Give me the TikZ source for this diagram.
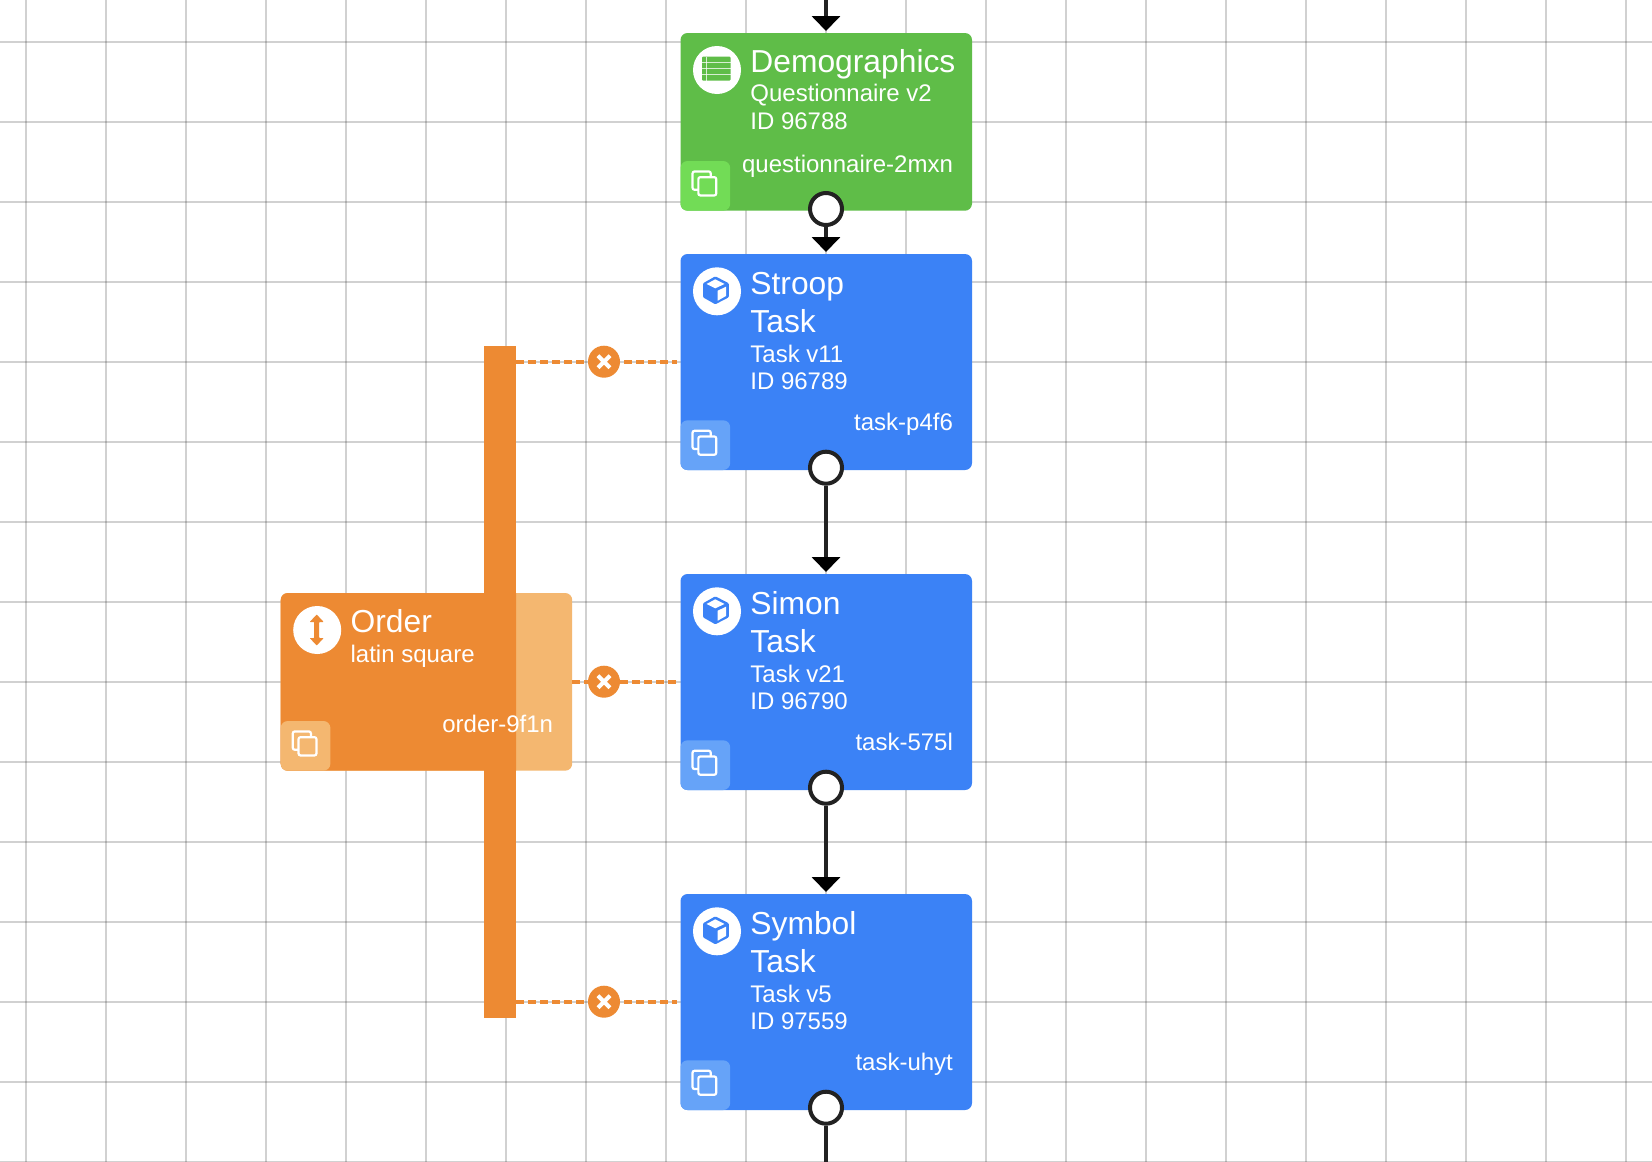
\documentclass[tikz,border=0pt]{standalone}
\usepackage{fontspec}
\setmainfont{Liberation Sans}
\usetikzlibrary{arrows.meta}
\definecolor{cgreen}{HTML}{5FBD48}
\definecolor{cgreenb}{HTML}{72DC56}
\definecolor{cblue}{HTML}{3B82F6}
\definecolor{cblueb}{HTML}{66A3F8}
\definecolor{corange}{HTML}{ED8A33}
\definecolor{corangeb}{HTML}{F4B770}
\definecolor{cink}{HTML}{222222}
\tikzset{
  gridline/.style={draw=black,draw opacity=.18,line width=1.6pt},
  cardbox/.style={anchor=north west,inner sep=0pt,outer sep=0pt,rounded corners=7pt,minimum width=291.5pt},
  copybtn/.style={anchor=south west,inner sep=0pt,outer sep=0pt,rounded corners=7pt,minimum width=49.7pt,minimum height=49.7pt},
  iconcirc/.style={circle,fill=white,inner sep=0pt,outer sep=0pt,minimum size=48pt},
  titletext/.style={anchor=base west,inner sep=0pt,text=white,font=\fontsize{31.8}{32}\selectfont},
  subtext/.style={anchor=base west,inner sep=0pt,text=white,font=\fontsize{24}{25}\selectfont},
  keytext/.style={anchor=base east,inner sep=0pt,text=white,font=\fontsize{24}{25}\selectfont},
  outport/.style={circle,draw=cink,fill=white,line width=4pt,inner sep=0pt,minimum size=32pt},
  flowline/.style={draw=cink,line width=4pt,-{Triangle[width=28pt,length=15pt,color=black]},shorten >=2pt,xshift=.6pt},
  plainline/.style={draw=cink,line width=4pt},
  dashline/.style={draw=corange,line width=3.8pt,dash pattern=on 8pt off 4pt,shorten >=4pt},
  delmark/.style={circle,fill=corange,inner sep=0pt,minimum size=32pt},
}
% copy icon at the centre of a button node: #1 node, #2 button colour
\newcommand{\copyglyph}[2]{%
  \begin{scope}[shift={(#1.center)}]
    \draw[white,line width=2.2pt,rounded corners=2pt] (-12.8,-14.4) rectangle (5.4,3.9);
    \draw[white,fill=#2,line width=2.2pt,rounded corners=2pt] (-7,-8.7) rectangle (10.9,9.6);
  \end{scope}}
\newcommand{\cubeglyph}[1]{%
  \begin{scope}[shift={(#1.center)}]
    \fill[cblue,rounded corners=1pt] (-1.7,-15) -- (11.8,-8) -- (11.8,6) -- (-1.7,13) -- (-14,6) -- (-14,-8) -- cycle;
    \fill[white] (-1.7,-12) -- (7.5,-7.3) -- (-1.7,-3) -- (-10.5,-7.3) -- cycle;
    \fill[white] (0.7,-0.6) -- (9,-4.6) -- (9,4.7) -- (0.7,9.4) -- cycle;
  \end{scope}}
\newcommand{\tableglyph}[1]{%
  \begin{scope}[shift={(#1.center)}]
    \fill[cgreen,rounded corners=1pt] (-15,-13.3) rectangle (13.5,10.7);
    \draw[white,draw opacity=.75,line width=.9pt] (-11,-13.3) -- (-11,10.7);
    \draw[white,draw opacity=.75,line width=.9pt] (-15,-8) -- (13.5,-8) (-15,-2) -- (13.5,-2) (-15,4.5) -- (13.5,4.5);
  \end{scope}}
\newcommand{\orderglyph}[1]{%
  \begin{scope}[shift={(#1.center)}]
    \fill[corange,rounded corners=.6pt] (-.5,-15.5) -- (6.5,-8) -- (2,-8) -- (2,8) -- (6.5,8) -- (-.5,15.5) -- (-7.5,8) -- (-3,8) -- (-3,-8) -- (-7.5,-8) -- cycle;
  \end{scope}}
% #1 name, #2 top y, #3 title1, #4 title2, #5 sub, #6 id, #7 key
\newcommand{\taskcard}[7]{%
  \node[cardbox,fill=cblue,minimum height=216pt] (#1) at (680.5,#2) {};
  \node[copybtn,fill=cblueb] (#1btn) at (#1.south west) {};
  \copyglyph{#1btn}{cblueb}
  \path (#1.north west) ++(36.5,37.3) node[iconcirc] (#1icon) {};
  \cubeglyph{#1icon}
  \path (#1.north west) ++(69.7,40) node[titletext] (#1ta) {#3};
  \path (#1.north west) ++(69.7,78) node[titletext] (#1tb) {#4};
  \path (#1.north west) ++(69.7,108.2) node[subtext] (#1sa) {#5};
  \path (#1.north west) ++(69.7,135.8) node[subtext] (#1sb) {#6};
  \path (#1.north west) ++(272.6,176.3) node[keytext] (#1key) {#7};
  \node[outport] (#1port) at (826,#2+213.7) {};
}
\begin{document}
\begin{tikzpicture}[x=1pt,y=-1pt]
\useasboundingbox (0,0) rectangle (1652,1162);
\fill[white] (0,0) rectangle (1652,1162);
% grid
\foreach \gx in {26,106,...,1626} \draw[gridline] (\gx,0) -- (\gx,1162);
\foreach \gy in {42,122,...,1162} \draw[gridline] (0,\gy) -- (1652,\gy);

% free ends
\coordinate (topend) at (826,0);
\coordinate (botend) at (826,1162);

% demographics card
\node[cardbox,fill=cgreen,minimum height=177.7pt] (demo) at (680.5,33) {};
\node[copybtn,fill=cgreenb] (demobtn) at (demo.south west) {};
\copyglyph{demobtn}{cgreenb}
\path (demo.north west) ++(36.5,37) node[iconcirc] (demoicon) {};
\tableglyph{demoicon}
\path (demo.north west) ++(69.7,39) node[titletext] (demota) {Demographics};
\path (demo.north west) ++(69.7,68.3) node[subtext] (demosa) {Questionnaire v2};
\path (demo.north west) ++(69.7,96.6) node[subtext] (demosb) {ID 96788};
\path (demo.north west) ++(272.6,139.2) node[keytext] (demokey) {questionnaire-2mxn};
\node[outport] (demoport) at (826,209) {};

% task cards
\taskcard{stroop}{254}{Stroop}{Task}{Task v11}{ID 96789}{task-p4f6}
\taskcard{simon}{574}{Simon}{Task}{Task v21}{ID 96790}{task-575l}
\taskcard{symbol}{894}{Symbol}{Task}{Task v5}{ID 97559}{task-uhyt}

% order card and bar
\node[cardbox,fill=corangeb,minimum height=177.7pt] (order) at (280.7,593) {};
\begin{scope}
  \clip (0,0) rectangle (516,1162);
  \fill[corange,rounded corners=7pt] (order.north west) rectangle (order.south east);
\end{scope}
\node[anchor=north west,inner sep=0pt,outer sep=0pt,fill=corange,minimum width=31.7pt,minimum height=671.7pt] (orderbar) at (484.3,346) {};
\node[copybtn,fill=corangeb] (orderbtn) at (order.south west) {};
\copyglyph{orderbtn}{corangeb}
\path (order.north west) ++(36.5,37) node[iconcirc] (ordericon) {};
\orderglyph{ordericon}
\path (order.north west) ++(69.7,39) node[titletext] (orderta) {Order};
\path (order.north west) ++(69.7,69) node[subtext] (ordersa) {latin square};
\path (order.north west) ++(272.6,139) node[keytext] (orderkey) {order-9f1n};

% flow connectors
\draw[flowline] (topend) -- (demo.north -| topend);
\draw[flowline] (demoport) -- (stroop.north -| demoport);
\draw[flowline] (stroopport) -- (simon.north -| stroopport);
\draw[flowline] (simonport) -- (symbol.north -| simonport);
\draw[plainline] (symbolport) -- (botend);

% order links
\draw[dashline] (orderbar.east |- stroop.west) -- (stroop.west);
\draw[dashline] (order.east |- simon.west) -- (simon.west);
\draw[dashline] (orderbar.east |- symbol.west) -- (symbol.west);
\node[delmark] (delstroop) at (604,361.7) {};
\node[delmark] (delsimon) at (604,681.7) {};
\node[delmark] (delsymbol) at (604,1001.7) {};
\foreach \dn in {delstroop,delsimon,delsymbol}
  \draw[white,line width=4pt] (\dn.center) ++(-6,-6) -- ++(12,12) (\dn.center) ++(-6,6) -- ++(12,-12);
\end{tikzpicture}
\end{document}
